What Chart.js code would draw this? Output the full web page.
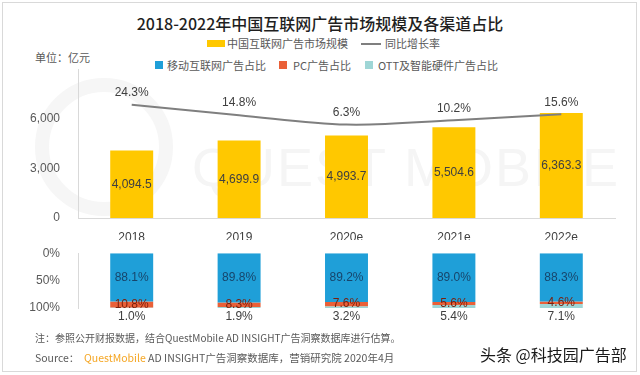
<!DOCTYPE html>
<html>
<head>
<meta charset="utf-8">
<script src="https://cdn.jsdelivr.net/npm/chart.js@4"></script>
<style>
  body { margin: 0; background: #fff; }
  #wrap { position: relative; width: 640px; height: 375px; overflow: hidden;
          font-family: "Noto Sans CJK SC", "Liberation Sans", sans-serif; color: #595959; }
  .frame { position: absolute; left: 2px; top: 2px; width: 633px; height: 368px; border: 1px solid #d9d9d9; }
  .t { position: absolute; white-space: nowrap; line-height: 1; font-size: 11px; }
  .sw { position: absolute; }
  .wm { position: absolute; left: 192px; top: 136px; font: 54px "Liberation Sans", sans-serif;
        letter-spacing: 2px; color: #f5f5f5; white-space: nowrap; }
  .ring { position: absolute; left: 35px; top: 78px; width: 110px; height: 110px;
          border: 14px solid #f6f6f6; border-radius: 50%; }
  canvas { position: absolute; left: 0; }
</style>
</head>
<body>
<div id="wrap">
  <div class="ring"></div>
  <div class="wm">QUEST MOBILE</div>
  <div class="frame"></div>

  <div class="t" style="left:0;width:640px;text-align:center;top:15px;font-size:16px;font-weight:500;color:#1f1f1f;">2018-2022年中国互联网广告市场规模及各渠道占比</div>

  <div class="sw" style="left:207px;top:40px;width:18px;height:7px;background:#ffc800;"></div>
  <div class="t" style="left:227px;top:38px;">中国互联网广告市场规模</div>
  <div class="sw" style="left:361px;top:43px;width:20px;height:2px;background:#7f7f7f;"></div>
  <div class="t" style="left:385px;top:38px;">同比增长率</div>

  <div class="t" style="left:35px;top:52px;">单位：亿元</div>

  <div class="sw" style="left:155px;top:61px;width:8px;height:8px;background:#1f9fd8;"></div>
  <div class="t" style="left:167px;top:60px;">移动互联网广告占比</div>
  <div class="sw" style="left:279px;top:61px;width:8px;height:8px;background:#ea6038;"></div>
  <div class="t" style="left:293px;top:60px;">PC广告占比</div>
  <div class="sw" style="left:365px;top:61px;width:8px;height:8px;background:#9fd6d6;"></div>
  <div class="t" style="left:378px;top:60px;">OTT及智能硬件广告占比</div>

  <canvas id="top" width="640" height="240" style="top:0;"></canvas>
  <canvas id="bottom" width="640" height="100" style="top:236px;"></canvas>

  <div class="t" style="left:35px;top:333px;font-size:10px;">注：参照公开财报数据，结合QuestMobile AD INSIGHT广告洞察数据库进行估算。</div>
  <div class="t" style="left:35px;top:353px;font-size:10.5px;">Source：&nbsp;&nbsp;<span style="color:#f5a623;">QuestMobile</span> AD INSIGHT广告洞察数据库，营销研究院 2020年4月</div>
  <div class="t" style="left:480px;top:346px;font-size:16px;color:#1a1a1a;">头条 @科技园广告部</div>
</div>

<script>
const years = ['2018', '2019', '2020e', '2021e', '2022e'];
const marketSize = [4094.5, 4699.9, 4993.7, 5504.6, 6363.3];
const growthRate = [24.3, 14.8, 6.3, 10.2, 15.6];
const mobileShare = [88.1, 89.8, 89.2, 89.0, 88.3];
const pcShare = [10.8, 8.3, 7.6, 5.6, 4.6];
const ottShare = [1.0, 1.9, 3.2, 5.4, 7.1];

const numFont = { family: '"Liberation Sans", Arial, sans-serif', size: 12 };
const pct = (v) => v.toFixed(1) + '%';

// draws the value on each bar / point, position picked per dataset
const valueLabels = {
  id: 'valueLabels',
  afterDatasetsDraw(chart) {
    const ctx = chart.ctx;
    chart.data.datasets.forEach((ds, i) => {
      if (!ds.labelFmt) return;
      const meta = chart.getDatasetMeta(i);
      ctx.save();
      ctx.font = '12px "Liberation Sans", Arial, sans-serif';
      ctx.fillStyle = ds.labelColor;
      ctx.textAlign = 'center';
      ctx.textBaseline = 'middle';
      meta.data.forEach((el, j) => {
        let y;
        if (ds.labelPos === 'above') y = el.y - 12;
        else if (ds.labelPos === 'below') y = Math.max(el.y, el.base) + 9;
        else y = (el.y + el.base) / 2;
        ctx.fillText(ds.labelFmt(ds.data[j]), el.x, y);
      });
      ctx.restore();
    });
  }
};

new Chart(document.getElementById('top'), {
  data: {
    labels: years,
    datasets: [
      {
        type: 'line', data: growthRate, yAxisID: 'y2', order: 0,
        borderColor: '#7f7f7f', borderWidth: 2, pointRadius: 0, tension: 0.35,
        labelPos: 'above', labelColor: '#404040', labelFmt: pct
      },
      {
        type: 'bar', data: marketSize, yAxisID: 'y', order: 1,
        backgroundColor: '#ffc800', categoryPercentage: 1, barPercentage: 0.4,
        labelColor: '#404040',
        labelFmt: (v) => v.toLocaleString('en-US', { minimumFractionDigits: 1 })
      }
    ]
  },
  options: {
    responsive: false,
    animation: false,
    layout: { padding: { left: 0, right: 25, top: 69.5, bottom: 0 } },
    plugins: { legend: { display: false }, tooltip: { enabled: false } },
    scales: {
      x: {
        grid: { display: false },
        border: { color: '#d9d9d9' },
        ticks: { color: '#404040', font: numFont, padding: 4 },
        afterFit(s) { s.height = 22; }
      },
      y: {
        min: 0, max: 9000,
        grid: { display: false },
        border: { color: '#d9d9d9' },
        ticks: {
          stepSize: 3000, color: '#595959', font: numFont, padding: 10,
          callback: (v) => (v === 9000 ? '' : v.toLocaleString('en-US'))
        },
        afterFit(s) { s.width = 78; }
      },
      y2: { display: false, min: -78, max: 56 }
    }
  },
  plugins: [valueLabels]
});

new Chart(document.getElementById('bottom'), {
  type: 'bar',
  data: {
    labels: years,
    datasets: [
      { data: mobileShare, backgroundColor: '#1f9fd8', labelColor: '#17456b', labelFmt: pct },
      { data: pcShare, backgroundColor: '#ea6038', labelColor: '#7a1f0c', labelFmt: pct },
      { data: ottShare, backgroundColor: '#9fd6d6', labelColor: '#404040', labelPos: 'below', labelFmt: pct }
    ]
  },
  options: {
    responsive: false,
    animation: false,
    datasets: { bar: { categoryPercentage: 1, barPercentage: 0.4 } },
    layout: { padding: { left: 0, right: 25, top: 6, bottom: 28 } },
    plugins: { legend: { display: false }, tooltip: { enabled: false } },
    scales: {
      x: { stacked: true, display: false },
      y: {
        stacked: true, reverse: true, min: 0, max: 100,
        grid: { display: false },
        border: { color: '#d9d9d9' },
        ticks: { stepSize: 50, color: '#595959', font: numFont, padding: 10, callback: (v) => v + '%' },
        afterFit(s) { s.width = 78; }
      }
    }
  },
  plugins: [valueLabels]
});
</script>
</body>
</html>
